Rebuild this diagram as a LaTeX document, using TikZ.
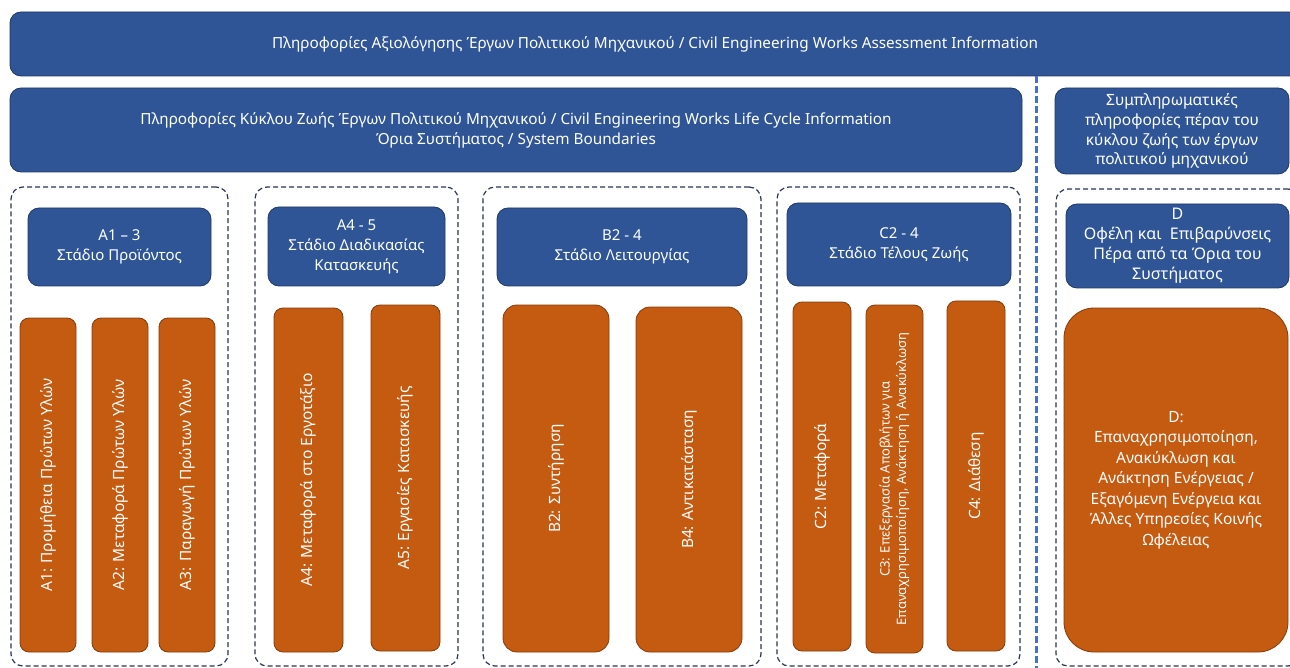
\documentclass[tikz,border=0pt]{standalone}
\usepackage{fontspec}
\setmainfont{Noto Sans}
\definecolor{bluefill}{RGB}{47,85,151}
\definecolor{blueline}{RGB}{32,56,100}
\definecolor{orangefill}{RGB}{197,90,17}
\definecolor{orangeline}{RGB}{132,60,12}
\definecolor{groupline}{RGB}{38,52,88}
\definecolor{sepblue}{RGB}{68,114,196}
\begin{document}
\begin{tikzpicture}[x=1pt,y=-1pt,
  bluebox/.style={draw=blueline, line width=0.8pt, fill=bluefill, text=white,
    rounded corners=11pt, align=center, inner sep=2pt,
    font=\fontsize{15}{20}\selectfont},
  orangebar/.style={draw=orangeline, line width=0.8pt, fill=orangefill, text=white,
    rounded corners=9pt, align=center, inner sep=2pt, rotate=90,
    font=\fontsize{15.5}{18}\selectfont},
  groupbox/.style={draw=groupline, line width=1.2pt, dash pattern=on 5pt off 3pt,
    rounded corners=12pt, inner sep=0pt}]
\clip (0,0) rectangle (1290,668);

% top bars
\node [bluebox, minimum width=1290, minimum height=64, font=\fontsize{15.3}{20}\selectfont] (assess) at (655,44)
  {Πληροφορίες Αξιολόγησης Έργων Πολιτικού Μηχανικού / Civil Engineering Works Assessment Information};
\node [bluebox, minimum width=1012, minimum height=84, font=\fontsize{15.3}{20}\selectfont] (lifecycle) at (516,130)
  {Πληροφορίες Κύκλου Ζωής Έργων Πολιτικού Μηχανικού / Civil Engineering Works Life Cycle Information\\
   Όρια Συστήματος / System Boundaries};
\node [bluebox, minimum width=234, minimum height=86, font=\fontsize{15.5}{19.7}\selectfont] (beyond) at (1172,131)
  {Συμπληρωματικές\\ πληροφορίες πέραν του\\ κύκλου ζωής των έργων\\ πολιτικού μηχανικού};

\draw [sepblue, line width=3pt, dash pattern=on 7pt off 3pt] (1036,76) -- (1036,668);

% stage groups
\node [groupbox, minimum width=217, minimum height=479] (grpA) at (119.5,426.5) {};
\node [groupbox, minimum width=203, minimum height=479] (grpAA) at (356.5,426.5) {};
\node [groupbox, minimum width=278, minimum height=479] (grpB) at (622,426.5) {};
\node [groupbox, minimum width=243, minimum height=479] (grpC) at (898.5,426.5) {};
\node [groupbox, minimum width=244, minimum height=477] (grpD) at (1178,427.5) {};

% stage headers
\node [bluebox, minimum width=183, minimum height=78] (hA) at (119.5,247) {A1 – 3\\ Στάδιο Προϊόντος};
\node [bluebox, minimum width=177, minimum height=79] (hAA) at (356.5,246.5) {A4 - 5\\ Στάδιο Διαδικασίας\\ Κατασκευής};
\node [bluebox, minimum width=250, minimum height=78] (hB) at (622,247) {B2 - 4\\ Στάδιο Λειτουργίας};
\node [bluebox, minimum width=224, minimum height=83] (hC) at (899,244.5) {C2 - 4\\ Στάδιο Τέλους Ζωής};
\node [bluebox, minimum width=223, minimum height=84, font=\fontsize{16}{20}\selectfont] (hD) at (1177.5,246)
  {D\\ Οφέλη και~ Επιβαρύνσεις\\ Πέρα από τα Όρια του\\ Συστήματος};

% modules
\node [orangebar, minimum width=334, minimum height=56] (a1) at (48,485) {A1: Προμήθεια Πρώτων Υλών};
\node [orangebar, minimum width=334, minimum height=56] (a2) at (120,485) {A2: Μεταφορά Πρώτων Υλών};
\node [orangebar, minimum width=334, minimum height=56] (a3) at (187,485) {A3: Παραγωγή Πρώτων Υλών};
\node [orangebar, minimum width=344, minimum height=69] (a4) at (308.5,480) {A4: Μεταφορά στο Εργοτάξιο};
\node [orangebar, minimum width=346, minimum height=69] (a5) at (405.5,478) {A5: Εργασίες Κατασκευής};
\node [orangebar, minimum width=347, minimum height=106, rounded corners=14pt] (b2) at (556,478.5) {B2: Συντήρηση};
\node [orangebar, minimum width=345, minimum height=106, rounded corners=14pt] (b4) at (689,479.5) {B4: Αντικατάσταση};
\node [orangebar, minimum width=349, minimum height=58] (c2) at (822,476.5) {C2: Μεταφορά};
\node [orangebar, minimum width=348, minimum height=57, font=\fontsize{13}{16.5}\selectfont] (c3) at (894.5,479)
  {C3: Επεξεργασία Αποβλήτων για\\ Επαναχρησιμοποίηση, Ανάκτηση ή Ανακύκλωση};
\node [orangebar, minimum width=350, minimum height=58] (c4) at (976,476) {C4: Διάθεση};
\node [orangebar, rotate=-90, minimum width=224, minimum height=344, rounded corners=30pt,
  font=\fontsize{15.5}{20.5}\selectfont] (d) at (1176,480)
  {D:\\ Επαναχρησιμοποίηση,\\ Ανακύκλωση και\\ Ανάκτηση Ενέργειας /\\ Εξαγόμενη Ενέργεια και\\ Άλλες Υπηρεσίες Κοινής\\ Ωφέλειας};
\end{tikzpicture}
\end{document}
